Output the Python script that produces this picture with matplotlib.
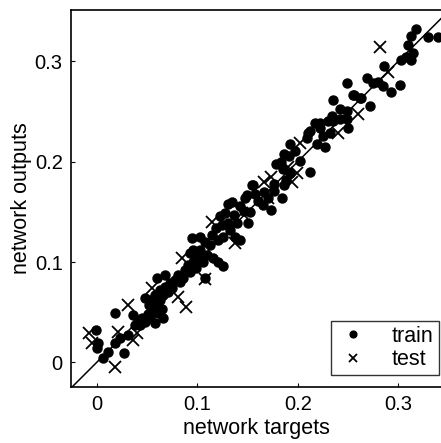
import numpy as np
import matplotlib
matplotlib.use("Agg")
import matplotlib.pyplot as plt

plt.rcParams['font.family'] = ['Liberation Sans', 'DejaVu Sans']

# training set: (target, output) pairs
train_x = [-0.001, 0.001, 0.000, 0.006, 0.011, 0.027, 0.018, 0.023, 0.031, 0.018,
           0.036, 0.066, 0.058, 0.041, 0.045, 0.048, 0.051, 0.053, 0.056, 0.059,
           0.061, 0.063, 0.065, 0.052, 0.043, 0.038, 0.053, 0.058, 0.063, 0.068,
           0.066, 0.073, 0.071, 0.078, 0.075, 0.081, 0.083, 0.088, 0.086, 0.091,
           0.093, 0.096, 0.099, 0.101, 0.103, 0.106, 0.108, 0.095, 0.060, 0.068,
           0.048, 0.110, 0.116, 0.121, 0.126, 0.113, 0.108, 0.115, 0.121, 0.119,
           0.125, 0.123, 0.128, 0.131, 0.135, 0.133, 0.138, 0.126, 0.143, 0.140,
           0.151, 0.153, 0.150, 0.155, 0.158, 0.131, 0.137, 0.143, 0.147, 0.096,
           0.093, 0.103, 0.148, 0.156, 0.166, 0.170, 0.176, 0.176, 0.184, 0.186,
           0.188, 0.192, 0.212, 0.185, 0.178, 0.183, 0.186, 0.191, 0.192, 0.209,
           0.210, 0.219, 0.217, 0.173, 0.165, 0.160, 0.197, 0.202, 0.212, 0.222,
           0.225, 0.232, 0.230, 0.234, 0.235, 0.242, 0.249, 0.250, 0.242, 0.249,
           0.235, 0.255, 0.262, 0.272, 0.249, 0.269, 0.275, 0.280, 0.222, 0.227,
           0.285, 0.293, 0.302, 0.286, 0.303, 0.313, 0.308, 0.315, 0.310, 0.313,
           0.318, 0.330, 0.340, 0.256, 0.263]
train_y = [0.032, 0.019, 0.014, 0.004, 0.010, 0.009, 0.019, 0.024, 0.027, 0.049,
           0.047, 0.044, 0.039, 0.040, 0.044, 0.040, 0.048, 0.044, 0.052, 0.057,
           0.049, 0.062, 0.053, 0.057, 0.037, 0.037, 0.062, 0.067, 0.072, 0.075,
           0.067, 0.079, 0.070, 0.082, 0.074, 0.087, 0.080, 0.092, 0.084, 0.097,
           0.090, 0.100, 0.094, 0.104, 0.112, 0.100, 0.084, 0.124, 0.084, 0.087,
           0.064, 0.107, 0.104, 0.100, 0.096, 0.117, 0.120, 0.127, 0.122, 0.134,
           0.137, 0.146, 0.149, 0.158, 0.160, 0.132, 0.125, 0.125, 0.122, 0.139,
           0.139, 0.150, 0.167, 0.177, 0.168, 0.139, 0.147, 0.156, 0.151, 0.112,
           0.109, 0.125, 0.164, 0.177, 0.170, 0.164, 0.171, 0.178, 0.164, 0.177,
           0.182, 0.189, 0.190, 0.193, 0.198, 0.200, 0.208, 0.206, 0.218, 0.224,
           0.229, 0.218, 0.239, 0.152, 0.157, 0.161, 0.211, 0.201, 0.231, 0.239,
           0.226, 0.229, 0.241, 0.246, 0.241, 0.243, 0.243, 0.234, 0.253, 0.251,
           0.261, 0.266, 0.263, 0.256, 0.278, 0.283, 0.278, 0.279, 0.234, 0.215,
           0.275, 0.269, 0.276, 0.295, 0.301, 0.301, 0.304, 0.308, 0.316, 0.325,
           0.332, 0.324, 0.324, 0.266, 0.263]

# test set
test_x = [-0.008, -0.005, 0.018, 0.021, 0.040, 0.036, 0.031, 0.055, 0.081, 0.089,
          0.108, 0.085, 0.100, 0.115, 0.138, 0.145, 0.202, 0.199, 0.194, 0.166,
          0.173, 0.190, 0.170, 0.260, 0.240, 0.282, 0.290]
test_y = [0.029, 0.019, -0.005, 0.030, 0.029, 0.022, 0.057, 0.074, 0.065, 0.055,
          0.083, 0.104, 0.107, 0.140, 0.119, 0.149, 0.219, 0.189, 0.180, 0.180,
          0.185, 0.195, 0.164, 0.248, 0.229, 0.314, 0.289]

xlim = (-0.0256, 0.3426)
ylim = (-0.0243, 0.351)
ticks = [0, 0.1, 0.2, 0.3]
tick_labels = ['0', '0.1', '0.2', '0.3']

fig = plt.figure(figsize=(4.41, 4.43), dpi=100)
ax = fig.add_axes([0.161, 0.127, 0.839, 0.850])

# identity line
ax.plot([-0.1, 0.5], [-0.1, 0.5], color='black', lw=1.1, zorder=1)
ax.plot(train_x, train_y, 'o', color='black', markersize=6.5, label='train', zorder=3)
ax.plot(test_x, test_y, 'x', color='black', markersize=8, mew=1.3, label='test', zorder=4)

ax.set_xlim(*xlim)
ax.set_ylim(*ylim)
ax.set_xticks(ticks)
ax.set_xticklabels(tick_labels)
ax.set_yticks(ticks)
ax.set_yticklabels(tick_labels)
ax.tick_params(direction='in', length=3, width=0.8, labelsize=14.5, pad=6)
ax.spines['right'].set_visible(False)
for s in ['top', 'left', 'bottom']:
    ax.spines[s].set_linewidth(1.2)

ax.set_xlabel('network targets', fontsize=15.5, labelpad=3)
ax.set_ylabel('network outputs', fontsize=15.5, labelpad=2)

leg = ax.legend(loc='lower right', fontsize=15.5, frameon=True, fancybox=False,
                edgecolor='black', handlelength=1.6, handletextpad=1.0,
                borderpad=0.25, labelspacing=0.1, markerscale=0.75,
                borderaxespad=0, bbox_to_anchor=(0.995, 0.03))
leg.get_frame().set_linewidth(1.0)

fig.savefig('out.png', dpi=100)
